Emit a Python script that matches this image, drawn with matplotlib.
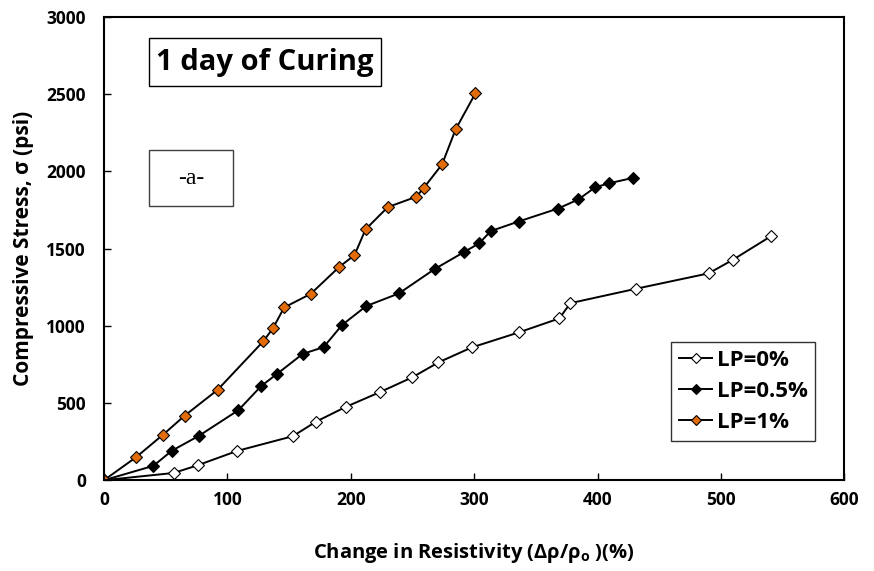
import matplotlib
matplotlib.use("Agg")
import matplotlib.pyplot as plt
from matplotlib.patches import Rectangle

plt.rcParams['font.family'] = ['Open Sans', 'DejaVu Sans']
plt.rcParams['font.weight'] = 'bold'

# LP = 0 %
x_lp0 = [0, 56.5, 76, 108, 153, 172, 196, 224, 250, 271, 298, 336, 369, 378,
         431, 490, 509.5, 541]
y_lp0 = [0, 47, 97, 190, 285, 380, 475, 572, 667, 763, 860, 957, 1048, 1147,
         1240, 1340, 1427, 1583]

# LP = 0.5 %
x_lp05 = [0, 40, 55, 77, 109, 127.5, 140, 161, 178, 193, 212.5, 239, 268, 292,
          304, 313.5, 336, 368, 384.5, 398, 409, 429]
y_lp05 = [0, 93, 191, 288, 454, 611, 687, 818, 862, 1006, 1128, 1210, 1368, 1479,
          1534, 1614, 1676, 1760, 1819, 1897, 1923, 1959]

# LP = 1 %
x_lp1 = [0, 26, 48, 65.5, 92, 129, 137, 146, 167.5, 190.7, 203, 212, 230, 253,
         259, 274, 285, 301]
y_lp1 = [0, 149, 296, 419, 585, 899, 985, 1119, 1207, 1382, 1458, 1625, 1769,
         1836, 1892, 2046, 2273, 2506]

x_ticks = [0, 100, 200, 300, 400, 500, 600]
y_ticks = [0, 500, 1000, 1500, 2000, 2500, 3000]

fig = plt.figure(figsize=(8.74, 5.71), dpi=100)
ax = fig.add_axes([0.119, 0.159, 0.847, 0.811])

ms = 6
ax.plot(x_lp0, y_lp0, color='black', lw=1.4, marker='D', ms=ms,
        mfc='white', mec='black', mew=0.8, label='LP=0%')
ax.plot(x_lp05, y_lp05, color='black', lw=1.4, marker='D', ms=ms,
        mfc='black', mec='black', mew=0.8, label='LP=0.5%')
ax.plot(x_lp1, y_lp1, color='black', lw=1.4, marker='D', ms=ms,
        mfc='#E36C0A', mec='black', mew=0.8, label='LP=1%')

ax.set_xlim(0, 600)
ax.set_ylim(0, 3000)
ax.set_xticks(x_ticks)
ax.set_yticks(y_ticks)
ax.tick_params(direction='in', length=5, width=1, labelsize=12.5)
ax.tick_params(axis='y', pad=13)
ax.tick_params(axis='x', pad=8)
for s in ax.spines.values():
    s.set_linewidth(1.5)

ax.set_xlabel('Change in Resistivity (\u0394\u03c1/\u03c1$_\\mathregular{o}$ )(%)',
              fontsize=14.5, fontweight='bold', labelpad=23)
ax.set_ylabel('Compressive Stress, \u03c3 (psi)', fontsize=15,
              fontweight='bold', labelpad=9)

# title box
ax.add_patch(Rectangle((0.0608, 0.851), 0.3135, 0.1037, transform=ax.transAxes,
                       fill=False, edgecolor='black', lw=1))
ax.text(0.2176, 0.901, '1 day of Curing', transform=ax.transAxes,
        ha='center', va='center', fontsize=21, fontweight='bold')

# panel label box
ax.add_patch(Rectangle((0.0608, 0.592), 0.1135, 0.121, transform=ax.transAxes,
                       fill=False, edgecolor='#404040', lw=1))
ax.text(0.1176, 0.652, '-a-', transform=ax.transAxes, ha='center', va='center',
        fontsize=17, family='Liberation Serif', fontweight='normal')

leg = ax.legend(loc='upper left', bbox_to_anchor=(0.766, 0.298), fontsize=16,
                frameon=True, fancybox=False, edgecolor='black',
                handlelength=1.5, handletextpad=0.2, borderpad=0.35,
                labelspacing=0.45, borderaxespad=0, markerscale=0.9)
leg.get_frame().set_linewidth(1)

fig.savefig('out.png', dpi=100)
